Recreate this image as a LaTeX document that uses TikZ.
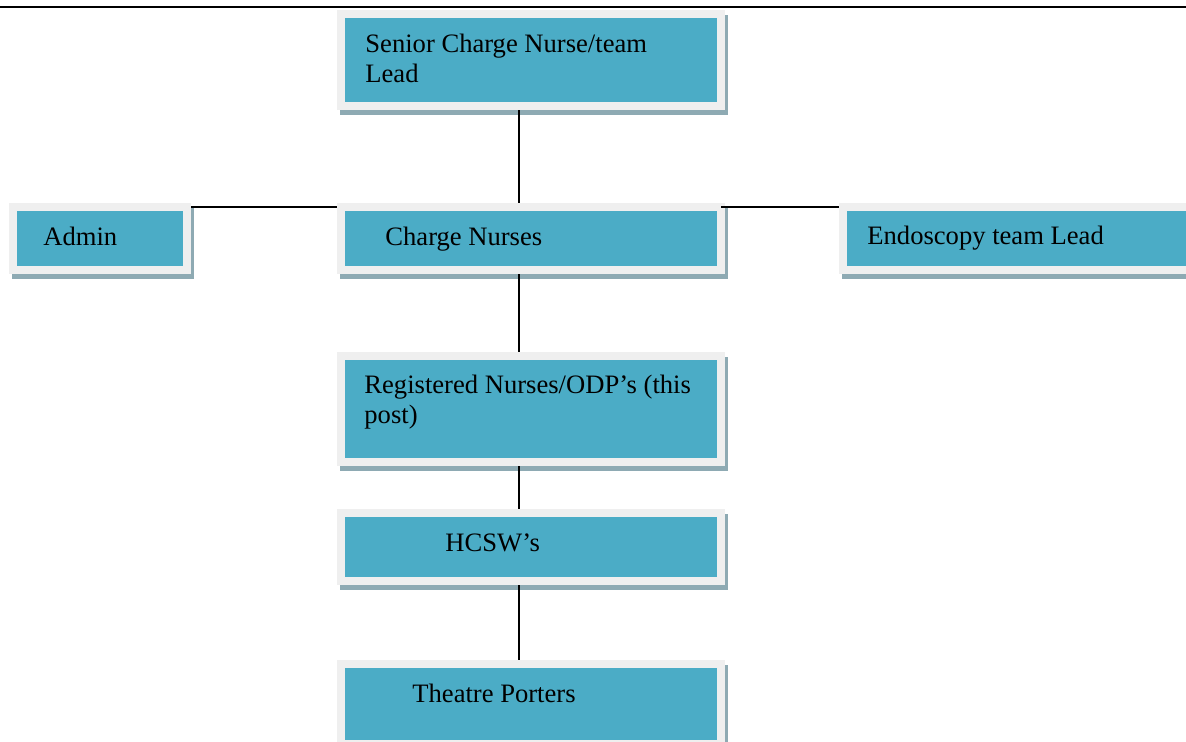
\documentclass[tikz,border=0pt]{standalone}
\usepackage{fontspec}
\setmainfont{Liberation Serif}
\usetikzlibrary{fit,shadows}
\definecolor{teal1}{HTML}{4BACC6}
\definecolor{framec}{HTML}{EFEFEF}
\definecolor{shadowc}{HTML}{8EAAB3}
\tikzset{
  orgbox/.style={inner sep=0pt, draw=none, fill=framec,
    general shadow={fill=shadowc, shadow xshift=1.5pt, shadow yshift=-2.5pt},
    path picture={\fill[teal1] ([shift={(4pt,-4pt)}]path picture bounding box.north west)
      rectangle ([shift={(-4pt,4pt)}]path picture bounding box.south east);}},
  lbl/.style={inner sep=0pt, anchor=base west, align=left,
    font=\fontsize{13.3}{15}\selectfont},
  conn/.style={draw=black, line width=0.75pt}
}
\begin{document}
\begin{tikzpicture}[x=0.5pt,y=-0.5pt]
\useasboundingbox (0,0) rectangle (1186,742);
\clip (0,0) rectangle (1186,742);
\draw[line width=1pt] (0,7.5) -- (1186,7.5);
% boxes
\node[orgbox, fit={(337,10)(725,110)}] (senior) {};
\node[orgbox, fit={(9,203)(191,274)}] (admin) {};
\node[orgbox, fit={(337,203)(725,274)}] (charge) {};
\node[orgbox, fit={(839,203)(1200,274)}] (endo) {};
\node[orgbox, fit={(337,352)(725,466)}] (reg) {};
\node[orgbox, fit={(337,509)(725,585)}] (hcsw) {};
\node[orgbox, fit={(337,660)(725,748)}] (porters) {};
% labels (base = baseline of last line)
\node[lbl] (tsenior) at (365,83) {Senior Charge Nurse/team\\Lead};
\node[lbl] (tadmin) at (43,246) {Admin};
\node[lbl] (tcharge) at (385,246) {Charge Nurses};
\node[lbl] (tendo) at (867,245) {Endoscopy team Lead};
\node[lbl] (treg) at (364,423) {Registered Nurses/ODP’s (this\\post)};
\node[lbl] (thcsw) at (445,551) {HCSW’s};
\node[lbl] (tporters) at (412,702) {Theatre Porters};
% connectors
\coordinate (cx) at (519,0);
\coordinate (hy) at (0,207);
\draw[conn] (cx |- senior.south) -- (cx |- charge.north);
\draw[conn] (cx |- charge.south) -- (cx |- reg.north);
\draw[conn] (cx |- reg.south) -- (cx |- hcsw.north);
\draw[conn] (cx |- hcsw.south) -- (cx |- porters.north);
\draw[conn] (admin.east |- hy) -- (charge.west |- hy);
\draw[conn] ([xshift=-2pt]charge.east |- hy) -- (endo.west |- hy);
\end{tikzpicture}
\end{document}
